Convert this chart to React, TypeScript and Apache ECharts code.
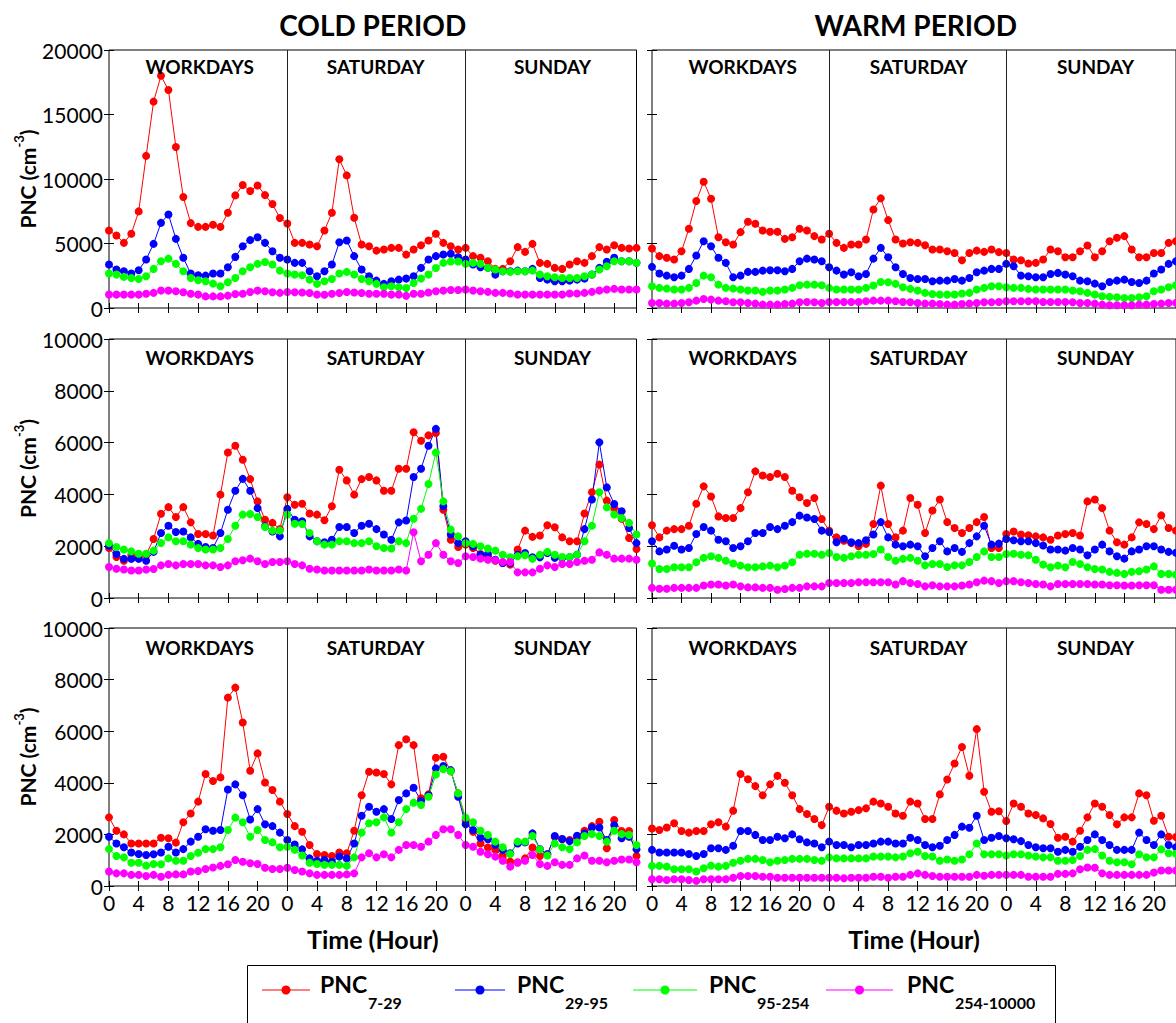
import React, { useEffect, useRef } from 'react';
import * as echarts from 'echarts';

const FONT = 'Lato';
const periods = ['COLD PERIOD', 'WARM PERIOD'];
const dayNames = ['WORKDAYS', 'SATURDAY', 'SUNDAY'];
const sizeBins = ['7-29', '29-95', '95-254', '254-10000'];
const binColors = ['#ff0000', '#0000ff', '#00ff00', '#ff00ff'];
const yMax = [20000, 10000, 10000];
const yStep = [5000, 2000, 2000];
const hoursPerDay = 24;
const tickHours = 4;

// Hourly mean PNC (cm^-3): 24 workday hours, 24 Saturday hours, 24 Sunday hours.
// Row 1
const cold1_7_29 = [
  6010, 5620, 5050, 5750, 7490, 11790, 16000, 18000, 16900, 12480, 8600, 6580, 6290, 6290, 6450, 6290, 7380, 8730, 9530, 9070, 9500, 8750, 8060, 6970,
  6550, 5050, 5050, 4920, 4790, 6010, 7380, 11530, 10280, 6990, 4920, 4790, 4450, 4530, 4660, 4660, 4140, 4530, 4870, 5230, 5750, 5050, 4790, 4530,
  4660, 4020, 3890, 3630, 3030, 3030, 3630, 4720, 4350, 4970, 3500, 3420, 3110, 3030, 3370, 3630, 3500, 4020, 4720, 4530, 4870, 4660, 4610, 4660,
];
const cold1_29_95 = [
  3370, 2980, 2850, 2670, 2930, 3760, 4970, 6600, 7250, 5360, 3890, 2670, 2540, 2510, 2670, 2670, 3160, 3960, 4790, 5260, 5490, 5050, 4400, 3890,
  3760, 3500, 3500, 2850, 2460, 2850, 3370, 5100, 5230, 4020, 2980, 2460, 2120, 1870, 2070, 2200, 2280, 2460, 3110, 3760, 4020, 4150, 4200, 3940,
  3760, 3370, 3160, 3110, 2590, 2850, 2850, 2900, 2850, 3030, 2330, 2200, 2070, 2070, 2120, 2200, 2280, 2590, 3110, 3580, 3890, 3630, 3630, 3500,
];
const cold1_95_254 = [
  2670, 2590, 2410, 2330, 2250, 2460, 3030, 3630, 3830, 3420, 2850, 2330, 2150, 2070, 1890, 1680, 1990, 2330, 2850, 3160, 3420, 3570, 3370, 2900,
  2670, 2590, 2540, 2200, 1870, 2070, 2250, 2670, 2800, 2590, 2250, 2070, 1870, 1610, 1680, 1610, 1550, 1940, 2280, 2590, 3100, 3500, 3600, 3600,
  3420, 3500, 3420, 3110, 2980, 2850, 2800, 2850, 2850, 2900, 2590, 2460, 2380, 2330, 2330, 2330, 2460, 2590, 2980, 3240, 3630, 3630, 3630, 3500,
];
const cold1_254_10000 = [
  1040, 1040, 1040, 1040, 1040, 1110, 1170, 1350, 1350, 1300, 1220, 1110, 1040, 900, 900, 900, 960, 1090, 1110, 1240, 1350, 1300, 1220, 1170,
  1240, 1220, 1200, 1160, 1040, 1030, 1100, 1160, 1240, 1200, 1160, 1100, 1100, 1100, 1040, 1040, 940, 1100, 1110, 1200, 1300, 1350, 1400, 1400,
  1430, 1350, 1300, 1250, 1170, 1170, 1120, 1040, 1040, 1040, 1040, 1040, 1040, 1040, 1120, 1120, 1170, 1250, 1350, 1430, 1480, 1430, 1430, 1430,
];
const warm1_7_29 = [
  4610, 4020, 3890, 3760, 4400, 6140, 8290, 9790, 8470, 5490, 5100, 4920, 5880, 6680, 6530, 6010, 5910, 5910, 5360, 5490, 6140, 6010, 5570, 5310,
  5750, 5050, 4660, 4920, 4920, 5310, 7640, 8500, 6810, 5310, 5000, 5100, 5050, 4870, 4530, 4530, 4400, 4270, 3700, 4270, 4450, 4350, 4530, 4330,
  4270, 3760, 3700, 3450, 3500, 3760, 4530, 4400, 3940, 3940, 4400, 4850, 3940, 4400, 5180, 5440, 5570, 4530, 3940, 3940, 4270, 4270, 5050, 5180,
];
const warm1_29_95 = [
  3190, 2670, 2510, 2380, 2510, 3030, 4070, 5180, 4790, 3890, 3500, 2380, 2510, 2800, 2800, 2900, 2930, 2930, 2850, 3030, 3630, 3830, 3760, 3630,
  3160, 2900, 2590, 2770, 2460, 2640, 3830, 4660, 3940, 3160, 2640, 2330, 2250, 2250, 2070, 2120, 2120, 2250, 2120, 2330, 2770, 2900, 3030, 3030,
  3420, 3240, 2510, 2460, 2380, 2380, 2640, 2720, 2590, 2460, 2120, 2070, 1890, 1680, 2020, 2120, 2200, 2020, 1940, 2120, 2670, 2980, 3420, 3630,
];
const warm1_95_254 = [
  1680, 1560, 1500, 1430, 1430, 1560, 1940, 2510, 2380, 1810, 1560, 1500, 1430, 1350, 1350, 1250, 1350, 1350, 1430, 1560, 1760, 1810, 1810, 1760,
  1560, 1430, 1430, 1430, 1430, 1560, 1740, 2020, 2000, 1870, 1610, 1480, 1350, 1170, 1090, 1040, 1040, 1040, 1120, 1170, 1430, 1560, 1680, 1680,
  1610, 1560, 1560, 1480, 1430, 1430, 1430, 1430, 1430, 1350, 1300, 1170, 1040, 910, 860, 830, 780, 780, 830, 910, 1300, 1430, 1610, 1760,
];
const warm1_254_10000 = [
  390, 390, 340, 340, 390, 440, 570, 700, 650, 570, 520, 440, 440, 390, 340, 260, 260, 260, 310, 340, 440, 470, 440, 390,
  470, 470, 470, 470, 470, 520, 570, 570, 570, 520, 470, 440, 390, 340, 340, 310, 260, 260, 310, 340, 390, 440, 440, 470,
  520, 520, 520, 520, 520, 470, 470, 470, 470, 440, 390, 390, 340, 260, 210, 210, 210, 210, 260, 260, 310, 340, 390, 400,
];

// Row 2
const cold2_7_29 = [
  1930, 1580, 1440, 1650, 1580, 1670, 2280, 3250, 3510, 3130, 3510, 2920, 2470, 2470, 2410, 3990, 5620, 5880, 5340, 4590, 3730, 3020, 2900, 2660,
  3890, 3600, 3640, 3260, 3220, 3000, 3540, 4950, 4540, 3990, 4590, 4670, 4540, 4140, 4140, 4990, 4990, 6400, 6070, 6280, 6370, 3410, 2250, 1970,
  2060, 1930, 1700, 1610, 1440, 1350, 1290, 1870, 2600, 2360, 2410, 2810, 2730, 2340, 2190, 2190, 3260, 4080, 5150, 3760, 3470, 3060, 2320, 1890,
];
const cold2_29_95 = [
  2020, 1700, 1510, 1510, 1510, 1440, 1780, 2510, 2790, 2550, 2570, 2340, 2090, 1970, 1930, 2510, 3410, 4140, 4600, 4140, 3470, 2770, 2570, 2380,
  3440, 3020, 2960, 2380, 2190, 2150, 2250, 2740, 2740, 2510, 2790, 2870, 2660, 2450, 2250, 2920, 2990, 4670, 4990, 5880, 6530, 3540, 2450, 2120,
  2190, 2000, 1670, 1700, 1480, 1350, 1350, 1670, 1740, 1570, 1570, 1740, 1550, 1550, 1570, 1670, 2660, 3800, 6010, 4270, 3630, 3350, 2700, 2120,
];
const cold2_95_254 = [
  2120, 1970, 1870, 1800, 1710, 1710, 1830, 2120, 2340, 2190, 2190, 2060, 1930, 1870, 1870, 1930, 2280, 2790, 3220, 3240, 3130, 2740, 2600, 2600,
  3220, 2870, 2860, 2510, 2190, 2060, 2060, 2190, 2190, 2120, 2120, 2190, 2000, 1930, 1910, 2190, 2120, 3060, 3440, 4400, 5620, 3730, 2640, 2380,
  2120, 2090, 2000, 1910, 1830, 1670, 1570, 1610, 1650, 1510, 1670, 1780, 1670, 1580, 1580, 1670, 2190, 2790, 4080, 3500, 3220, 3090, 2900, 2450,
];
const cold2_254_10000 = [
  1200, 1130, 1100, 1060, 1060, 1100, 1120, 1260, 1310, 1260, 1310, 1310, 1310, 1260, 1260, 1200, 1260, 1420, 1460, 1520, 1420, 1310, 1390, 1390,
  1420, 1310, 1260, 1130, 1100, 1060, 1060, 1060, 1060, 1060, 1060, 1100, 1060, 1060, 1060, 1100, 1060, 2540, 1420, 1670, 2120, 1670, 1420, 1350,
  1610, 1580, 1520, 1480, 1460, 1390, 1390, 990, 990, 990, 1130, 1260, 1200, 1310, 1310, 1390, 1440, 1480, 1760, 1670, 1520, 1520, 1520, 1480,
];
const warm2_7_29 = [
  2810, 2340, 2600, 2660, 2660, 2790, 3640, 4310, 3920, 3150, 3090, 3090, 3470, 4080, 4890, 4730, 4670, 4800, 4670, 4140, 3890, 3670, 3860, 3050,
  2600, 2340, 2210, 2120, 2000, 2090, 2860, 4340, 2860, 2340, 2600, 3860, 3600, 2510, 3380, 3800, 2930, 2700, 2510, 2700, 2930, 3130, 1930, 1930,
  2470, 2570, 2450, 2420, 2380, 2340, 2250, 2410, 2470, 2510, 2410, 3730, 3800, 3470, 2600, 2150, 2060, 2340, 2920, 2860, 2660, 3190, 2700, 2600,
];
const warm2_29_95 = [
  2190, 1800, 1870, 2020, 1870, 1930, 2470, 2740, 2600, 2250, 2190, 1930, 2000, 2190, 2510, 2510, 2740, 2660, 2790, 2930, 3180, 3110, 3050, 2600,
  2550, 2150, 2290, 2150, 2120, 2230, 2450, 2930, 2340, 2060, 2000, 2060, 2000, 1610, 1930, 2190, 1800, 1930, 1780, 2120, 2380, 2790, 2060, 2100,
  2280, 2230, 2190, 2190, 2120, 2030, 1870, 1870, 1830, 1930, 1870, 1650, 1870, 2060, 1800, 1610, 1520, 1800, 1870, 2000, 2000, 1870, 1780, 1750,
];
const warm2_95_254 = [
  1330, 1120, 1120, 1190, 1190, 1190, 1380, 1550, 1610, 1550, 1440, 1330, 1250, 1190, 1190, 1220, 1250, 1190, 1250, 1380, 1670, 1710, 1710, 1670,
  1740, 1580, 1550, 1610, 1670, 1670, 1700, 1870, 1580, 1440, 1510, 1550, 1440, 1260, 1310, 1310, 1200, 1260, 1260, 1390, 1580, 1800, 1580, 1580,
  1700, 1710, 1670, 1650, 1480, 1290, 1190, 1250, 1190, 1390, 1310, 1190, 1120, 1100, 1010, 970, 930, 1010, 1030, 1100, 1220, 930, 930, 900,
];
const warm2_254_10000 = [
  390, 360, 360, 390, 390, 390, 390, 480, 520, 520, 480, 520, 450, 410, 410, 390, 390, 320, 350, 390, 390, 450, 450, 450,
  580, 580, 580, 580, 610, 610, 610, 610, 610, 520, 650, 580, 540, 450, 490, 450, 450, 450, 480, 520, 610, 670, 650, 580,
  650, 650, 610, 580, 540, 520, 450, 540, 540, 540, 540, 540, 520, 520, 490, 490, 480, 480, 490, 490, 490, 320, 320, 320,
];

// Row 3
const cold3_7_29 = [
  2660, 2140, 2000, 1650, 1650, 1650, 1650, 1870, 1850, 1680, 2470, 2810, 3270, 4340, 4070, 4210, 7300, 7690, 6340, 4470, 5140, 4010, 3720, 3270,
  2790, 2320, 2100, 1590, 1240, 1200, 1160, 1300, 1270, 2140, 3520, 4430, 4400, 4340, 3940, 5460, 5690, 5460, 3400, 3550, 4970, 5010, 4450, 3590,
  2560, 2100, 1650, 1490, 1400, 1160, 940, 920, 1070, 1490, 1160, 1230, 1910, 1810, 1780, 1910, 2140, 2320, 2490, 1460, 2560, 2130, 2130, 1160,
];
const cold3_29_95 = [
  1910, 1650, 1500, 1300, 1240, 1200, 1230, 1300, 1520, 1300, 1430, 1720, 1910, 2200, 2140, 2170, 3740, 3940, 3520, 2580, 2980, 2390, 2320, 2070,
  1780, 1610, 1420, 1070, 980, 1010, 940, 1140, 1070, 1650, 2720, 3070, 2880, 2980, 2600, 3330, 3590, 3810, 3300, 3520, 4560, 4650, 4490, 3460,
  2390, 2170, 1870, 1810, 1590, 1400, 1270, 1650, 1690, 2040, 1430, 1230, 1940, 1820, 1740, 1950, 2040, 2270, 2270, 1780, 2360, 1850, 1910, 1420,
];
const cold3_95_254 = [
  1430, 1160, 1110, 900, 900, 790, 850, 840, 1070, 980, 980, 1160, 1290, 1430, 1430, 1500, 2170, 2650, 2470, 1910, 2170, 1780, 1690, 1500,
  1520, 1400, 1180, 900, 850, 820, 820, 820, 780, 1110, 2070, 2430, 2470, 2660, 2070, 2470, 2980, 3230, 3140, 3460, 4320, 4530, 4450, 3590,
  2650, 2470, 2140, 1980, 1720, 1500, 1240, 1720, 1720, 1940, 1420, 1180, 1650, 1500, 1430, 1690, 1940, 2010, 1940, 1720, 2140, 2010, 1980, 1590,
];
const cold3_254_10000 = [
  560, 490, 490, 430, 430, 390, 430, 360, 430, 450, 450, 560, 580, 660, 720, 780, 840, 1010, 940, 880, 850, 710, 660, 660,
  710, 620, 560, 490, 430, 430, 430, 430, 450, 490, 1110, 1270, 1110, 1230, 1110, 1400, 1590, 1590, 1520, 1720, 1980, 2200, 2200, 1980,
  1590, 1520, 1330, 1230, 1140, 980, 750, 900, 980, 1200, 850, 780, 920, 820, 820, 1070, 1180, 980, 980, 920, 980, 1030, 1030, 920,
];
const warm3_7_29 = [
  2230, 2170, 2270, 2430, 2130, 2070, 2130, 2130, 2390, 2470, 2300, 2920, 4340, 4140, 3870, 3520, 3940, 4270, 4000, 3520, 2980, 2790, 2600, 2360,
  3070, 2920, 2810, 2880, 2940, 3010, 3270, 3200, 3070, 2810, 2720, 3270, 3200, 2600, 2600, 3550, 4130, 4750, 5390, 4270, 6080, 3650, 2880, 2900,
  2520, 3200, 3070, 2810, 2750, 2620, 2400, 1870, 1910, 1720, 2140, 2660, 3200, 3070, 2750, 2390, 2660, 2660, 3590, 3520, 2530, 2720, 1910, 1900,
];
const warm3_29_95 = [
  1400, 1300, 1300, 1300, 1300, 1240, 1160, 1240, 1460, 1460, 1400, 1560, 2130, 2130, 1980, 1780, 1780, 1910, 1850, 2000, 1810, 1690, 1650, 1500,
  1720, 1590, 1590, 1500, 1590, 1590, 1650, 1720, 1720, 1650, 1650, 1870, 1780, 1590, 1500, 1560, 1780, 1980, 2300, 2260, 2720, 1780, 1870, 1940,
  1850, 1810, 1740, 1590, 1500, 1460, 1460, 1330, 1400, 1330, 1520, 1780, 2000, 1780, 1590, 1400, 1400, 1400, 2070, 1780, 1590, 2000, 1590, 1500,
];
const warm3_95_254 = [
  780, 780, 750, 650, 650, 650, 560, 690, 790, 750, 780, 900, 980, 1050, 1050, 1010, 920, 980, 1010, 1050, 1050, 1050, 1010, 980,
  1110, 1070, 1070, 1070, 1070, 1070, 1140, 1140, 1140, 1110, 1140, 1270, 1330, 1160, 1140, 980, 1030, 980, 1030, 1230, 1650, 1230, 1230, 1230,
  1180, 1230, 1230, 1180, 1140, 1110, 1110, 980, 980, 1010, 1160, 1400, 1430, 1180, 980, 920, 920, 840, 1230, 1110, 1110, 1420, 1270, 1250,
];
const warm3_254_10000 = [
  260, 260, 230, 260, 260, 230, 200, 260, 260, 260, 260, 320, 390, 390, 390, 360, 360, 320, 320, 320, 320, 320, 320, 320,
  320, 320, 300, 320, 320, 320, 360, 360, 320, 360, 360, 430, 490, 430, 390, 360, 360, 360, 360, 360, 430, 400, 430, 430,
  430, 430, 430, 360, 360, 360, 360, 470, 470, 490, 650, 720, 710, 490, 430, 430, 430, 430, 430, 430, 520, 600, 600, 600,
];

// [row][column: cold, warm][size bin]
const panelSeries = [
  [
    [cold1_7_29, cold1_29_95, cold1_95_254, cold1_254_10000],
    [warm1_7_29, warm1_29_95, warm1_95_254, warm1_254_10000],
  ],
  [
    [cold2_7_29, cold2_29_95, cold2_95_254, cold2_254_10000],
    [warm2_7_29, warm2_29_95, warm2_95_254, warm2_254_10000],
  ],
  [
    [cold3_7_29, cold3_29_95, cold3_95_254, cold3_254_10000],
    [warm3_7_29, warm3_29_95, warm3_95_254, warm3_254_10000],
  ],
];

// Layout (pixels)
const COL_LEFT = [109, 652];
const ROW_TOP = [50, 339, 628];
const ROW_H = [258, 259, 258];
const X_MAX = 71;
const PLOT_W = 527.5;
const HOUR_PX = PLOT_W / X_MAX;
const DAY_LABEL_AT = [12.2, 35.9, 59.7];
const DAY_LABEL_Y = [66, 357, 647];

const LEGEND_LINE = [
  [262, 310, 320],
  [455, 505, 517],
  [633, 697, 709],
  [826, 893, 907],
];

function buildOption(): echarts.EChartsOption {
  const grid: any[] = [];
  const xAxis: any[] = [];
  const yAxis: any[] = [];
  const series: any[] = [];
  const graphic: any[] = [];
  const tick = { show: true, inside: true, length: 5, lineStyle: { color: '#000', width: 1 } };

  for (let row = 0; row < 3; row++) {
    for (let col = 0; col < 2; col++) {
      const g = row * 2 + col;
      grid.push({
        left: COL_LEFT[col],
        top: ROW_TOP[row],
        width: PLOT_W,
        height: ROW_H[row],
        show: true,
        borderColor: '#000',
        borderWidth: 1,
        backgroundColor: '#fff',
      });
      xAxis.push({
        type: 'value',
        gridIndex: g,
        min: 0,
        max: X_MAX,
        interval: tickHours,
        position: 'bottom',
        axisLine: { show: false },
        axisTick: tick,
        splitLine: { show: false },
        axisLabel: {
          show: row === 2,
          color: '#000',
          fontFamily: FONT,
          fontSize: 21,
          margin: 6,
          showMaxLabel: false,
          formatter: (v: number) =>
            v % tickHours === 0 && v < X_MAX ? String(v % hoursPerDay) : '',
        },
        name: row === 2 ? 'Time (Hour)' : '',
        nameLocation: 'middle',
        nameGap: 38,
        nameTextStyle: {
          color: '#000',
          fontFamily: FONT,
          fontSize: 25,
          fontWeight: 'bold',
          lineHeight: 30,
        },
      });
      xAxis.push({
        type: 'value',
        gridIndex: g,
        min: 0,
        max: X_MAX,
        interval: tickHours,
        position: 'top',
        axisLine: { show: false },
        axisTick: tick,
        axisLabel: { show: false },
        splitLine: { show: false },
      });
      yAxis.push({
        type: 'value',
        gridIndex: g,
        min: 0,
        max: yMax[row],
        interval: yStep[row],
        position: 'left',
        axisLine: { show: false },
        axisTick: tick,
        splitLine: { show: false },
        axisLabel: {
          show: col === 0,
          color: '#000',
          fontFamily: FONT,
          fontSize: 21,
          margin: 6,
          formatter: (v: number) => String(v),
        },
        name: col === 0 ? '{a|PNC (cm}{s|-3}{a|)}' : '',
        nameLocation: 'middle',
        nameRotate: 90,
        nameGap: 62,
        nameTextStyle: {
          rich: {
            a: { fontFamily: FONT, fontSize: 21, fontWeight: 'bold', color: '#000', lineHeight: 30 },
            s: {
              fontFamily: FONT,
              fontSize: 13,
              fontWeight: 'bold',
              color: '#000',
              lineHeight: 13,
              verticalAlign: 'top',
            },
          },
        },
      });
      yAxis.push({
        type: 'value',
        gridIndex: g,
        min: 0,
        max: yMax[row],
        interval: yStep[row],
        position: 'right',
        axisLine: { show: false },
        axisTick: tick,
        axisLabel: { show: false },
        splitLine: { show: false },
      });

      sizeBins.forEach((bin, k) => {
        const color = binColors[k];
        series.push({
          type: 'line',
          name: `PNC ${bin}`,
          xAxisIndex: 2 * g,
          yAxisIndex: 2 * g,
          data: panelSeries[row][col][k].map((v, i) => [i, v]),
          symbol: 'circle',
          symbolSize: 8,
          lineStyle: { color, width: 1 },
          itemStyle: { color },
          emphasis: { disabled: true },
          markLine:
            k === 0
              ? {
                  silent: true,
                  symbol: ['none', 'none'],
                  label: { show: false },
                  lineStyle: { color: '#222', width: 1, type: 'solid' },
                  data: [{ xAxis: hoursPerDay }, { xAxis: 2 * hoursPerDay }],
                }
              : undefined,
        });
      });

      dayNames.forEach((name, d) => {
        graphic.push({
          type: 'text',
          x: COL_LEFT[col] + DAY_LABEL_AT[d] * HOUR_PX,
          y: DAY_LABEL_Y[row],
          z: 100,
          style: {
            text: name,
            fill: '#000',
            fontFamily: FONT,
            fontSize: 19,
            fontWeight: 'bold',
            align: 'center',
            verticalAlign: 'middle',
          },
        });
      });
    }
  }

  periods.forEach((p, col) => {
    graphic.push({
      type: 'text',
      x: COL_LEFT[col] + PLOT_W / 2,
      y: 25,
      style: {
        text: p,
        fill: '#000',
        fontFamily: FONT,
        fontSize: 28,
        fontWeight: 'bold',
        align: 'center',
        verticalAlign: 'middle',
      },
    });
  });

  // Legend box with line+marker samples and subscripted labels
  graphic.push({
    type: 'rect',
    shape: { x: 247.5, y: 965.5, width: 808, height: 80 },
    style: { fill: '#fff', stroke: '#000', lineWidth: 1 },
  });
  sizeBins.forEach((bin, k) => {
    const [x0, x1, tx] = LEGEND_LINE[k];
    const color = binColors[k];
    graphic.push({
      type: 'line',
      shape: { x1: x0, y1: 990, x2: x1, y2: 990 },
      style: { stroke: color, lineWidth: 1 },
    });
    graphic.push({
      type: 'circle',
      shape: { cx: (x0 + x1) / 2, cy: 990, r: 4.5 },
      style: { fill: color },
    });
    graphic.push({
      type: 'text',
      x: tx,
      y: 984,
      style: {
        text: 'PNC',
        fill: '#000',
        fontFamily: FONT,
        fontSize: 23,
        fontWeight: 'bold',
        align: 'left',
        verticalAlign: 'middle',
      },
    });
    graphic.push({
      type: 'text',
      x: tx + 48,
      y: 1002,
      style: {
        text: bin,
        fill: '#000',
        fontFamily: FONT,
        fontSize: 16,
        fontWeight: 'bold',
        align: 'left',
        verticalAlign: 'middle',
      },
    });
  });

  return {
    animation: false,
    backgroundColor: '#fff',
    textStyle: { fontFamily: FONT },
    grid,
    xAxis,
    yAxis,
    series,
    graphic,
  } as echarts.EChartsOption;
}

export default function App() {
  const ref = useRef<HTMLDivElement>(null);

  useEffect(() => {
    document.body.style.margin = '0';
    if (!ref.current) return;
    const chart = echarts.init(ref.current, undefined, { renderer: 'svg' });
    chart.setOption(buildOption());
    return () => chart.dispose();
  }, []);

  return (
    <div
      ref={ref}
      style={{ position: 'absolute', left: 0, top: 0, width: 1176, height: 1023, background: '#fff' }}
    />
  );
}
